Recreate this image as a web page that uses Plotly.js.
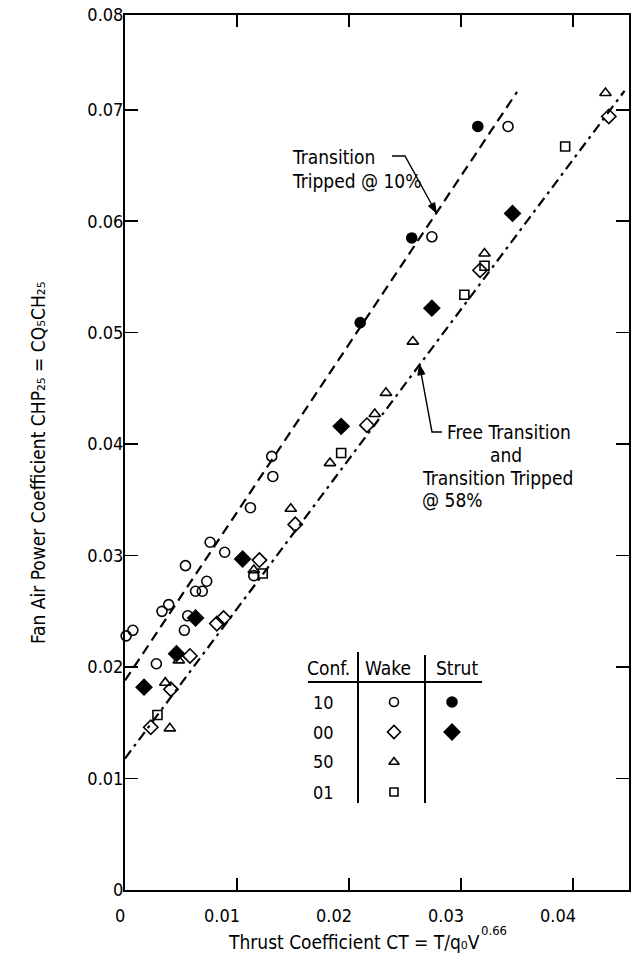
<!DOCTYPE html>
<html>
<head>
<meta charset="utf-8">
<script src="https://cdn.plot.ly/plotly-3.0.1.min.js"></script>
<style>
  html, body { margin: 0; padding: 0; background: #ffffff; }
  #chart { width: 638px; height: 971px; }
</style>
</head>
<body>
<div id="chart"></div>
<script>
// ---- data ----
const conf10WakeX = [0.0001, 0.0007, 0.0028, 0.0033, 0.0039, 0.0053, 0.0054, 0.0056, 0.0063, 0.0069, 0.0073, 0.0076, 0.0089, 0.0112, 0.0115, 0.0131, 0.0132, 0.0274, 0.0342];
const conf10WakeY = [0.0228, 0.0233, 0.0203, 0.0250, 0.0256, 0.0233, 0.0291, 0.0246, 0.0268, 0.0268, 0.0277, 0.0312, 0.0303, 0.0343, 0.0282, 0.0389, 0.0371, 0.0586, 0.0685];

const conf10StrutX = [0.0210, 0.0256, 0.0315];
const conf10StrutY = [0.0509, 0.0585, 0.0685];

const conf00WakeX = [0.0023, 0.0041, 0.0058, 0.0082, 0.0088, 0.0120, 0.0152, 0.0216, 0.0317, 0.0432];
const conf00WakeY = [0.0146, 0.0180, 0.0210, 0.0239, 0.0244, 0.0296, 0.0328, 0.0417, 0.0556, 0.0694];

const conf00StrutX = [0.0017, 0.0046, 0.0063, 0.0105, 0.0193, 0.0274, 0.0346];
const conf00StrutY = [0.0182, 0.0212, 0.0244, 0.0297, 0.0416, 0.0522, 0.0607];

const conf50WakeX = [0.0040, 0.0036, 0.0048, 0.0115, 0.0148, 0.0183, 0.0223, 0.0233, 0.0257, 0.0321, 0.0429];
const conf50WakeY = [0.0145, 0.0186, 0.0206, 0.0287, 0.0342, 0.0383, 0.0427, 0.0446, 0.0492, 0.0571, 0.0715];

const conf01WakeX = [0.0029, 0.0123, 0.0193, 0.0303, 0.0321, 0.0393];
const conf01WakeY = [0.0157, 0.0284, 0.0392, 0.0534, 0.0560, 0.0667];

// fitted lines
const tripped10LineX = [0, 0.0350];
const tripped10LineY = [0.0188, 0.0716];
const freeLineX = [0, 0.0446];
const freeLineY = [0.0118, 0.0717];

// ticks
const xTickVals = [0, 0.01, 0.02, 0.03, 0.04];
const xTickText = ['0', '0.01', '0.02', '0.03', '0.04'];
const yTickVals = [0, 0.01, 0.02, 0.03, 0.04, 0.05, 0.06, 0.07, 0.0785];
const yTickText = ['0', '0.01', '0.02', '0.03', '0.04', '0.05', '0.06', '0.07', '0.08'];

// legend table
const legendConfs = ['10', '00', '50', '01'];
const legendHeaders = ['Conf.', 'Wake', 'Strut'];

// ---- drawing ----
const FONT = 'DejaVu Sans Condensed, Liberation Sans Narrow, sans-serif';
const BLACK = '#000000';
const W = 638, H = 971, ML = 125, MR = 9, MT = 15, MB = 81;
const XR = [0, 0.045], YR = [0, 0.0785];
const PW = W - ML - MR, PH = H - MT - MB;

// pixel <-> paper helpers (layout only)
const px2paperX = px => (px - ML) / PW;
const px2paperY = py => (H - MB - py) / PH;
const dataPxX = x => ML + (x - XR[0]) / (XR[1] - XR[0]) * PW;
const dataPxY = y => H - MB - (y - YR[0]) / (YR[1] - YR[0]) * PH;

function markerTrace(x, y, symbol, size, name, xa, ya) {
  return {
    type: 'scatter', mode: 'markers', x: x, y: y, name: name,
    xaxis: xa || 'x', yaxis: ya || 'y',
    marker: { symbol: symbol, size: size, color: BLACK, line: { color: BLACK, width: 1.6 } },
    showlegend: false, hoverinfo: 'skip', cliponaxis: false
  };
}

const traces = [
  { type: 'scatter', mode: 'lines', x: tripped10LineX, y: tripped10LineY,
    line: { color: BLACK, width: 2.2, dash: '10px,6px' }, showlegend: false, hoverinfo: 'skip' },
  { type: 'scatter', mode: 'lines', x: freeLineX, y: freeLineY,
    line: { color: BLACK, width: 2.2, dash: '10px,5px,3px,5px' }, showlegend: false, hoverinfo: 'skip' },
  markerTrace(conf10WakeX, conf10WakeY, 'circle-open', 10, 'Conf 10 Wake'),
  markerTrace(conf10StrutX, conf10StrutY, 'circle', 10, 'Conf 10 Strut'),
  markerTrace(conf00WakeX, conf00WakeY, 'diamond-open', 11, 'Conf 00 Wake'),
  markerTrace(conf00StrutX, conf00StrutY, 'diamond', 12, 'Conf 00 Strut'),
  markerTrace(conf50WakeX, conf50WakeY, 'triangle-up-open', 10, 'Conf 50 Wake'),
  markerTrace(conf01WakeX, conf01WakeY, 'square-open', 9, 'Conf 01 Wake')
];

// legend table keys on a hidden unit axis
const L = { x0: px2paperX(308), x1: px2paperX(482), confX: px2paperX(323), wakeX: px2paperX(394), strutX: px2paperX(452),
            rows: [702, 732, 762, 792].map(px2paperY), headY: px2paperY(668), lineY: px2paperY(682),
            v1: px2paperX(358), v2: px2paperX(425), vBottom: px2paperY(803) };
const wakeSymbols = ['circle-open', 'diamond-open', 'triangle-up-open', 'square-open'];
const wakeSizes = [9, 10, 9, 8];
legendConfs.forEach((c, i) => {
  traces.push(markerTrace([L.wakeX], [L.rows[i]], wakeSymbols[i], wakeSizes[i], 'key', 'x2', 'y2'));
});
traces.push(markerTrace([L.strutX], [L.rows[0]], 'circle', 10, 'key', 'x2', 'y2'));
traces.push(markerTrace([L.strutX], [L.rows[1]], 'diamond', 12, 'key', 'x2', 'y2'));

const annotations = [];
const tf = (size) => ({ family: FONT, size: size, color: BLACK });
// x tick labels (right-aligned to the ticks, as in the reference)
xTickVals.forEach((v, i) => {
  annotations.push({ x: v, xref: 'x', y: 0, yref: 'paper', text: xTickText[i], showarrow: false,
    xanchor: 'right', yanchor: 'top', xshift: i === 0 ? 2 : 5, yshift: -13, font: tf(18) });
});
// axis titles (subscripts as Unicode characters, superscript as a raised small text)
annotations.push({ x: px2paperX(481), xref: 'paper', y: 0, yref: 'paper', xanchor: 'right', yanchor: 'top', yshift: -40,
  borderpad: 0, text: 'Thrust Coefficient CT = T/q\u2080V', showarrow: false, font: tf(19) });
annotations.push({ x: px2paperX(480), xref: 'paper', y: 0, yref: 'paper', xanchor: 'left', yanchor: 'top', yshift: -32,
  borderpad: 0, text: '0.66', showarrow: false, font: tf(13) });
annotations.push({ x: 0, xref: 'paper', xshift: -87, xanchor: 'center', y: px2paperY(463), yref: 'paper', yanchor: 'middle',
  text: 'Fan Air Power Coefficient CHP\u2082\u2085 = CQ\u2085CH\u2082\u2085', textangle: -90,
  showarrow: false, font: tf(19) });
// line labels
annotations.push({ x: px2paperX(290), xref: 'paper', y: px2paperY(157), yref: 'paper', xanchor: 'left', yanchor: 'middle',
  text: 'Transition', showarrow: false, font: tf(19) });
annotations.push({ x: px2paperX(290), xref: 'paper', y: px2paperY(181), yref: 'paper', xanchor: 'left', yanchor: 'middle',
  text: 'Tripped @ 10%', showarrow: false, font: tf(19) });
annotations.push({ x: px2paperX(445), xref: 'paper', y: px2paperY(432), yref: 'paper', xanchor: 'left', yanchor: 'middle',
  text: 'Free Transition', showarrow: false, font: tf(19) });
annotations.push({ x: px2paperX(506), xref: 'paper', y: px2paperY(455), yref: 'paper', xanchor: 'center', yanchor: 'middle',
  text: 'and', showarrow: false, font: tf(19) });
annotations.push({ x: px2paperX(420), xref: 'paper', y: px2paperY(478), yref: 'paper', xanchor: 'left', yanchor: 'middle',
  text: 'Transition Tripped', showarrow: false, font: tf(19) });
annotations.push({ x: px2paperX(420), xref: 'paper', y: px2paperY(500), yref: 'paper', xanchor: 'left', yanchor: 'middle',
  text: '@ 58%', showarrow: false, font: tf(19) });
// legend table text
[px2paperX(328), px2paperX(388), px2paperX(457)].forEach((x, i) => {
  annotations.push({ x: x, xref: 'paper', y: L.headY, yref: 'paper', text: legendHeaders[i],
    showarrow: false, xanchor: 'center', yanchor: 'middle', font: tf(19) });
});
legendConfs.forEach((c, i) => {
  annotations.push({ x: L.confX, xref: 'paper', y: L.rows[i], yref: 'paper', text: c,
    showarrow: false, xanchor: 'center', yanchor: 'middle', font: tf(18) });
});

const shapes = [
  { type: 'line', xref: 'paper', yref: 'paper', x0: L.x0, x1: L.x1, y0: L.lineY, y1: L.lineY, line: { color: BLACK, width: 2 } },
  { type: 'line', xref: 'paper', yref: 'paper', x0: L.v1, x1: L.v1, y0: px2paperY(652), y1: L.vBottom, line: { color: BLACK, width: 2 } },
  { type: 'line', xref: 'paper', yref: 'paper', x0: L.v2, x1: L.v2, y0: px2paperY(655), y1: L.vBottom, line: { color: BLACK, width: 2 } }
];

// leader lines with arrowheads (polyline in pixels, tip on the fitted line)
function leader(points, tip) {
  const all = points.concat([tip]);
  let d = '';
  all.forEach((p, i) => { d += (i ? ' L ' : 'M ') + px2paperX(p[0]) + ',' + px2paperY(p[1]); });
  shapes.push({ type: 'path', xref: 'paper', yref: 'paper', path: d, line: { color: BLACK, width: 1.4 } });
  const prev = all[all.length - 2];
  const dx = tip[0] - prev[0], dy = tip[1] - prev[1], len = Math.hypot(dx, dy);
  const ux = dx / len, uy = dy / len, hl = 10, hw = 3.6;
  const bx = tip[0] - ux * hl, by = tip[1] - uy * hl;
  const p1 = [bx - uy * hw, by + ux * hw], p2 = [bx + uy * hw, by - ux * hw];
  shapes.push({ type: 'path', xref: 'paper', yref: 'paper',
    path: 'M ' + px2paperX(tip[0]) + ',' + px2paperY(tip[1]) + ' L ' + px2paperX(p1[0]) + ',' + px2paperY(p1[1]) +
          ' L ' + px2paperX(p2[0]) + ',' + px2paperY(p2[1]) + ' Z',
    fillcolor: BLACK, line: { color: BLACK, width: 1 } });
}
const lineAt = (lx, ly, x) => ly[0] + (ly[1] - ly[0]) * (x - lx[0]) / (lx[1] - lx[0]);
const tipA = 0.0278, tipB = 0.0263;
leader([[392, 156], [405, 156]], [dataPxX(tipA), dataPxY(lineAt(tripped10LineX, tripped10LineY, tipA))]);
leader([[442, 432], [432, 432]], [dataPxX(tipB), dataPxY(lineAt(freeLineX, freeLineY, tipB))]);

const layout = {
  width: W, height: H,
  margin: { l: ML, r: MR, t: MT, b: MB },
  paper_bgcolor: '#ffffff', plot_bgcolor: '#ffffff',
  showlegend: false,
  font: { family: FONT, color: BLACK },
  xaxis: {
    range: XR, tickvals: xTickVals, showticklabels: false,
    ticks: 'inside', ticklen: 12, tickwidth: 1.6, tickcolor: BLACK,
    showline: true, linecolor: BLACK, linewidth: 2, mirror: 'ticks',
    showgrid: false, zeroline: false
  },
  yaxis: {
    range: YR, tickvals: yTickVals, ticktext: yTickText,
    ticks: 'inside', ticklen: 13, tickwidth: 1.6, tickcolor: BLACK,
    showline: true, linecolor: BLACK, linewidth: 2, mirror: 'ticks',
    showgrid: false, zeroline: false, ticklabelstandoff: -4,
    tickfont: tf(18)
  },
  xaxis2: { range: [0, 1], overlaying: 'x', anchor: 'y2', visible: false },
  yaxis2: { range: [0, 1], overlaying: 'y', anchor: 'x2', visible: false },
  annotations: annotations,
  shapes: shapes
};

Plotly.newPlot('chart', traces, layout, { staticPlot: true, displayModeBar: false });
</script>
</body>
</html>
